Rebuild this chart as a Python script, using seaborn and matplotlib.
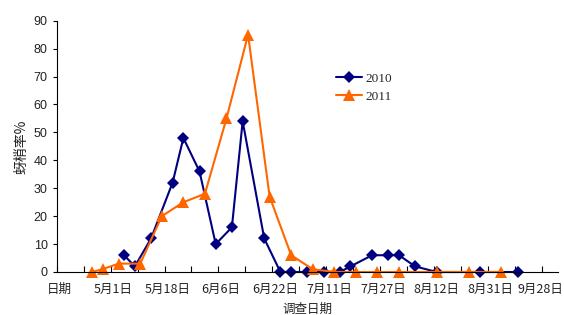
import numpy as np
import pandas as pd
import matplotlib
matplotlib.use('Agg')
import matplotlib.pyplot as plt
import seaborn as sns

# category index on the x axis (one category per survey row), values in %
cat_2010 = [12, 14, 17, 21, 23, 26, 29, 32, 34, 38, 41, 43, 46, 49, 52, 54, 58, 61, 63, 66, 70, 78, 85]
val_2010 = [6, 2, 12, 32, 48, 36, 10, 16, 54, 12, 0, 0, 0, 0, 0, 2, 6, 6, 6, 2, 0, 0, 0]

cat_2011 = [6, 8, 11, 15, 19, 23, 27, 31, 35, 39, 43, 47, 51, 55, 59, 63, 70, 76, 82]
val_2011 = [0, 1, 3, 3, 20, 25, 28, 55, 85, 27, 6, 1, 0, 0, 0, 0, 0, 0, 0]

label_cats = [0, 10, 20, 30, 40, 50, 60, 70, 80, 90]
tick_labels = ['日期', '5月1日', '5月18日', '6月6日', '6月22日', '7月11日',
               '7月27日', '8月12日', '8月31日', '9月28日']

df10 = pd.DataFrame({'cat': cat_2010, 'rate': val_2010, 'year': '2010'})
df11 = pd.DataFrame({'cat': cat_2011, 'rate': val_2011, 'year': '2011'})
# points sit in the middle of their category
df10['x'] = df10['cat'] + 0.5
df11['x'] = df11['cat'] + 0.5

sns.set_style('ticks')
plt.rcParams['font.family'] = ['Liberation Sans', 'Noto Sans CJK SC']

fig, ax = plt.subplots(figsize=(5.64, 3.15), dpi=100)
fig.subplots_adjust(left=56.7/564, right=558/564, bottom=(315-272)/315, top=(315-20.7)/315)

sns.lineplot(data=df10, x='x', y='rate', color='#000080', marker='D', label='2010',
             markersize=6, markeredgewidth=0, linewidth=1.5, ax=ax, sort=False, clip_on=False)
sns.lineplot(data=df11, x='x', y='rate', color='#FF6600', marker='^', label='2011',
             markersize=8, markeredgewidth=0, linewidth=1.5, ax=ax, sort=False, clip_on=False)

ax.set_xlim(0, 93)
ax.set_ylim(0, 90)
ax.set_yticks(range(0, 91, 10))
ax.set_xticks(range(0, 91, 5))
ax.set_xticklabels([])
# labels centred on their category; the last one is pulled in so it stays inside the figure
label_pos = [c + 0.5 for c in label_cats]
label_pos[-1] = label_cats[-1] - 0.3
ax.set_xticks(label_pos, minor=True)
ax.set_xticklabels(tick_labels, minor=True, fontsize=9, family='Noto Sans CJK SC', color='#222222')
ax.tick_params(axis='x', which='major', direction='in', length=4, width=0.8, color='black')
ax.tick_params(axis='x', which='minor', length=0, pad=8)
ax.tick_params(axis='y', direction='out', length=3, width=0.8, labelsize=9, color='black', labelcolor='#222222')

for s in ['top', 'right']:
    ax.spines[s].set_visible(False)
for s in ['left', 'bottom']:
    ax.spines[s].set_color('black')
    ax.spines[s].set_linewidth(0.8)

ax.set_xlabel('调查日期', fontsize=9, family='Noto Sans CJK SC', labelpad=5, color='#222222')
ax.set_ylabel('蚜梢率%', fontsize=10, family='Noto Sans CJK SC', labelpad=4, color='#222222')

leg = ax.legend(loc='upper left', bbox_to_anchor=(0.543, 0.82), frameon=False,
                prop={'family': 'Liberation Serif', 'size': 9.5},
                handlelength=2.0, handletextpad=0.3, labelspacing=0.45, borderpad=0)

fig.savefig('out.png', dpi=100, facecolor='white')
